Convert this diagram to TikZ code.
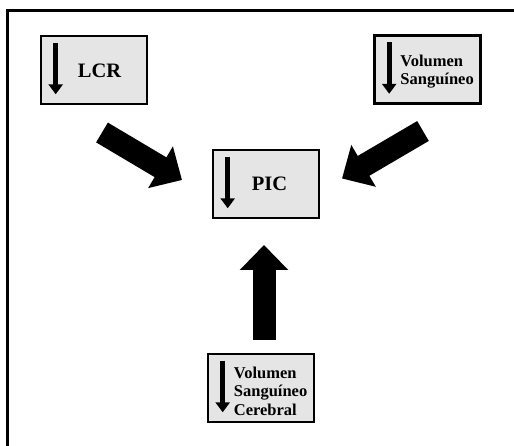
\documentclass[tikz,border=0pt]{standalone}
\usepackage{fontspec}
\setmainfont{Liberation Serif}
\usetikzlibrary{arrows.meta}

\begin{document}
\begin{tikzpicture}[x=1pt,y=-1pt, % pixel units, y downwards
  box/.style={draw,line width=2.6pt,fill=gray!20,minimum width=106pt,minimum height=68pt},
  boxtext/.style={anchor=west,align=left,inner sep=0pt,font=\bfseries\fontsize{16.5}{17.5}\selectfont},
  bigtext/.style={anchor=west,inner sep=0pt,font=\bfseries\fontsize{20.5}{22}\selectfont},
  smalldown/.style={line width=5pt,-{Triangle[length=10pt,width=14pt]}},
  bigarrow/.style={line width=23pt,-{Triangle[length=25pt,width=47pt]}}]
\useasboundingbox (0,0) rectangle (514,446);

% frame
\draw[line width=3pt] (7.5,446) -- (7.5,11) -- (514,11);

% boxes
\node[box] (lcr) at (94,70) {};
\node[box] (vs) at (427.5,69.5) {};
\node[box] (pic) at (266,184) {};
\node[box] (vsc) at (261,388) {};

\node[bigtext] (lcrtext) at ([xshift=38pt,yshift=-1pt]lcr.west) {LCR};
\node[boxtext] (vstext) at ([xshift=27pt,yshift=-2pt]vs.west) {Volumen\\Sanguíneo};
\node[bigtext] (pictext) at ([xshift=40pt,yshift=0pt]pic.west) {PIC};
\node[boxtext,font=\bfseries\fontsize{16.5}{18.5}\selectfont] (vsctext) at ([xshift=27pt,yshift=-3pt]vsc.west) {Volumen\\Sanguíneo\\Cerebral};

% small arrows inside the boxes
\foreach \b in {lcr,vs,pic,vsc}
\draw[smalldown] ([xshift=16pt,yshift=-8pt]\b.north west) -- ([xshift=16pt,yshift=11pt]\b.south west);

% big arrows towards PIC
\coordinate (lcrout) at (102,132.5);
\coordinate (picleft) at (182,180);
\coordinate (vsout) at (423,131);
\coordinate (picright) at (342,178.5);
\coordinate (vscout) at (264,340);
\coordinate (picbottom) at (264,245);

\draw[bigarrow] (lcrout) -- (picleft);
\draw[bigarrow] (vsout) -- (picright);
\draw[bigarrow] (vscout) -- (picbottom);

\end{tikzpicture}
\end{document}
